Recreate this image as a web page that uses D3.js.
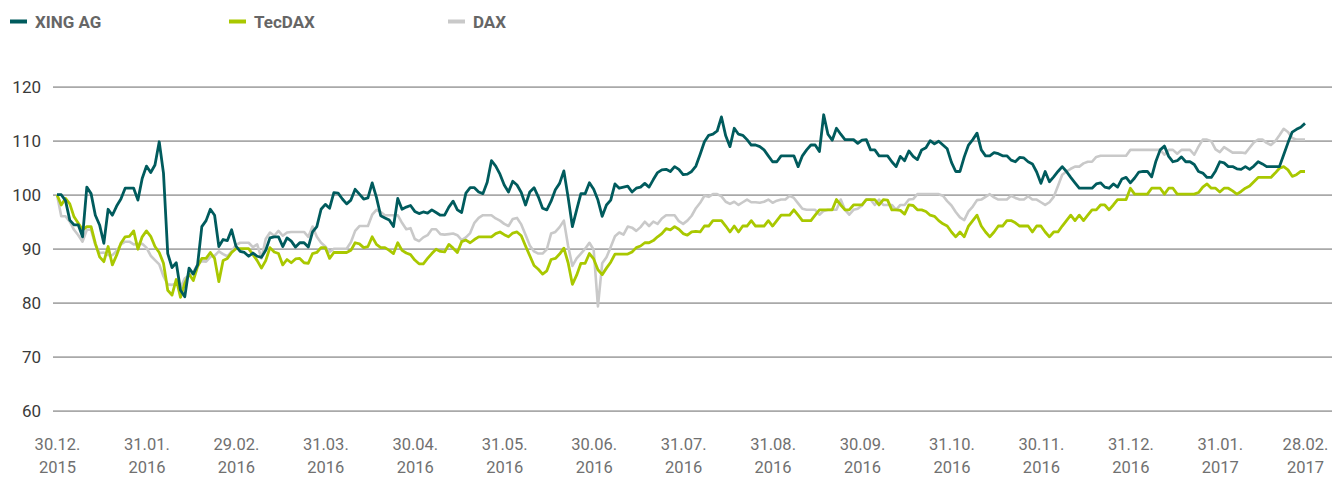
<!DOCTYPE html>
<html>
<head>
<meta charset="utf-8">
<script src="https://cdn.jsdelivr.net/npm/d3@7"></script>
<style>
  html, body { margin: 0; padding: 0; background: #fff; }
  svg text { font-family: Roboto, "Open Sans", sans-serif; }
</style>
</head>
<body>
<div id="chart"></div>
<script>
// indexed performance, 30.12.2015 = 100 (one value per trading day)
const seriesNames = ["XING AG", "TecDAX", "DAX"];
const seriesColors = ["#005b5d", "#a9c800", "#c9c9c9"];

const xingAG = [
  100, 100, 98.9, 95.3, 94.4, 94.4, 92.2, 101.4, 100.2, 96.2,
  94.4, 91, 97.3, 96.2, 97.9, 99.2, 101.2, 101.2, 101.2, 99,
  103, 105.3, 104.1, 105.5, 109.8, 104, 89.1, 86.5, 87.4, 82.3,
  81.1, 86.4, 85.3, 87, 94.1, 95.2, 97.3, 96.2, 90.4, 91.7,
  91.5, 93.5, 90.5, 89.5, 89.3, 88.6, 89.2, 88.6, 88.4, 89.7,
  92, 92.2, 92.2, 90.4, 92, 91.4, 90.3, 91.1, 91.1, 90.3,
  93.1, 94.1, 97.3, 98.2, 97.5, 100.4, 100.3, 99.2, 98.3, 99,
  101, 100.1, 99.2, 99.4, 102.2, 99.5, 96.1, 95.7, 95.3, 94.1,
  99.3, 97.3, 97.7, 98, 96.9, 96.5, 96.8, 96.6, 97.2, 96.7,
  96.2, 96.2, 97.7, 98.8, 97.2, 96.7, 100.3, 101.3, 101.3, 100.5,
  100.2, 102.3, 106.3, 105.3, 103.8, 101.8, 100.5, 102.5, 101.8, 100.4,
  98.1, 100.5, 101.3, 99.6, 97.5, 97.2, 98.8, 100.9, 102.1, 104.4,
  99.5, 94.1, 97.2, 100.2, 100.2, 102.2, 101, 99, 96, 98.1,
  99, 102, 101.2, 101.4, 101.6, 100.5, 101.2, 101.4, 102.1, 101.4,
  102.8, 104.1, 104.6, 104.7, 104.3, 105.2, 104.7, 103.7, 103.8, 104.3,
  105.3, 107.5, 109.8, 111, 111.2, 111.8, 114.4, 110.9, 108.9, 112.3,
  111.2, 111, 110.2, 109.2, 109.2, 108.9, 108.3, 107.2, 106.1, 106.1,
  107.2, 107.2, 107.2, 107.2, 105.2, 107.2, 108.3, 109.2, 109.2, 108,
  114.8, 111.2, 110.1, 112.3, 111.2, 110.2, 110.2, 110.2, 109.5, 110.1,
  110.2, 108.3, 108.3, 107.2, 107.2, 107.2, 106.1, 105.2, 107.1, 106.3,
  108.1, 107.1, 106.5, 108.3, 108.7, 110, 109.4, 109.9, 109.2, 108.5,
  106, 104.3, 104.3, 107, 109.2, 110.2, 111.4, 108.3, 107.2, 107.2,
  107.8, 107.6, 107.2, 107.2, 106.4, 106.1, 106.9, 106.8, 106.1, 105.7,
  104.2, 102.1, 104.3, 102.4, 103.3, 104.3, 105.2, 104.3, 103.2, 102.2,
  101.2, 101.2, 101.2, 101.2, 102, 102.2, 101.4, 101.2, 102, 101.4,
  102.9, 103.2, 102.2, 103.1, 104.2, 104.3, 104.3, 103.3, 106.2, 108.3,
  109, 107.1, 106.1, 106.3, 107, 106.1, 106.1, 105.6, 104.3, 104,
  103.2, 103.2, 104.4, 106.1, 105.9, 105.2, 105.2, 104.8, 104.7, 105.2,
  104.7, 105.3, 106.1, 105.7, 105.2, 105.2, 105.2, 105.2, 107.4, 109.6,
  111.6, 112.1, 112.5, 113.2
];

const tecDAX = [
  100, 98.1, 99.3, 98.3, 95.9, 94.7, 93.5, 94.1, 94.1, 91,
  88.5, 87.6, 90.4, 87, 88.8, 91, 92.2, 92.3, 93.3, 89.9,
  92.2, 93.3, 92.3, 90.4, 89.3, 87.3, 82.3, 81.4, 84.3, 81,
  83.6, 85.3, 84.1, 86.7, 88.2, 88.2, 89.3, 88.2, 83.9, 87.8,
  88.2, 89.3, 90, 90, 90, 90, 88.9, 87.8, 86.4, 87.8,
  90.2, 89.4, 89.1, 87, 88, 87.4, 88.1, 88.2, 87.4, 87.3,
  89.1, 89.3, 90.2, 90.2, 88.2, 89.3, 89.3, 89.3, 89.3, 89.7,
  91.1, 90.9, 90.2, 90.4, 92.2, 90.8, 90.2, 90.2, 89.7, 89.1,
  91.1, 89.7, 89.2, 88.9, 87.9, 87.2, 87.2, 88.2, 89.1, 89.9,
  89.5, 89.4, 90.8, 90.1, 89.3, 91.3, 91.6, 91.1, 91.7, 92.2,
  92.2, 92.2, 92.2, 92.8, 93.1, 92.6, 92.2, 92.9, 93.1, 92.4,
  90.5, 88.7, 86.9, 86.2, 85.3, 85.9, 88, 88.2, 89, 90.1,
  87.4, 83.4, 85.1, 87.3, 87.3, 89.1, 88.1, 86.1, 85.2, 86.4,
  87.5, 89, 89, 89, 89, 89.4, 90.2, 90.5, 91.1, 91.1,
  91.5, 92.2, 92.8, 93.7, 93.5, 94.1, 93.6, 92.8, 92.5, 93.1,
  93.2, 93.1, 94.2, 94.2, 95.2, 95.2, 95.2, 94.2, 93.1, 94.2,
  93.1, 94.2, 94.2, 95.2, 94.2, 94.2, 94.2, 95.2, 94.2, 95.2,
  96.2, 96.2, 96.2, 97.2, 96.2, 95.2, 95.2, 95.2, 96.2, 97.2,
  97.2, 97.2, 97.2, 99.1, 98.1, 97.2, 97.2, 98.1, 98.1, 98.1,
  99.1, 99.1, 99.1, 98.1, 99.1, 99, 97.2, 97.2, 97.1, 96.4,
  98.1, 98, 97.2, 97.2, 96.9, 96.2, 96, 95.2, 94.6, 94.2,
  93.1, 92.2, 93.1, 92.2, 94.2, 95.2, 96.2, 94.2, 93.1, 92.2,
  93.1, 94.2, 94.2, 95.2, 95.2, 94.8, 94.2, 94.2, 94.2, 93.1,
  94.2, 94.2, 93.1, 92.2, 93.1, 93.1, 94.2, 95.2, 96.2, 95.2,
  96.2, 95.2, 96.2, 97.2, 97.2, 98.1, 98.1, 97.2, 98.1, 99.1,
  99.1, 99.1, 101.2, 100.1, 100.1, 100.1, 100.1, 101.2, 101.2, 101.2,
  100.1, 101.2, 101.2, 100.1, 100.1, 100.1, 100.1, 100.1, 100.4, 101.4,
  102, 101.2, 101.2, 100.5, 101.2, 101.2, 100.7, 100.1, 100.6, 101.2,
  101.6, 102.4, 103.2, 103.2, 103.2, 103.2, 104, 104.9, 105.2, 104.6,
  103.4, 103.7, 104.3, 104.3
];

const dax = [
  100, 96, 96, 95, 93.5, 92.5, 91.3, 93.5, 93.5, 90.7,
  89.2, 89.3, 88.8, 88.8, 89.6, 90.8, 91.3, 91.3, 90.8, 90.9,
  90.9, 90.2, 88.7, 87.9, 87.1, 84.9, 83.4, 83.3, 83.6, 82.8,
  84.5, 85, 85.7, 87, 87.7, 87.6, 88.5, 88.7, 89.5, 89,
  88.6, 89.5, 90.7, 91.1, 91.1, 91.1, 90.3, 90.8, 88.2, 91.8,
  93, 92.4, 93.3, 92.4, 93, 93.1, 93.1, 93.1, 93.1, 92.2,
  94.1, 92.2, 91.1, 90.4, 89.4, 90, 90, 90, 90, 91.2,
  93.3, 94.2, 94.2, 94.2, 96.3, 97.2, 96.8, 96.2, 96.2, 96.2,
  96.2, 94.8, 93.6, 93.8, 91.8, 91.4, 92.1, 92.5, 93.6, 93.6,
  92.7, 92.6, 92.7, 92.8, 92.5, 91.6, 92.1, 92.9, 94.8, 95.7,
  96.2, 96.2, 96.2, 95.6, 95.2, 94.6, 94.2, 95.5, 95.7, 94.5,
  92.6, 90.6, 89.5, 89.1, 89.1, 89.9, 92.8, 93.1, 94, 95.2,
  90.5, 86.8, 88.2, 89.1, 90, 91.1, 89.8, 79.3, 87.3, 88.4,
  90.3, 92.3, 93, 92.6, 94.1, 93.9, 93.3, 94, 95, 94.2,
  95, 94.6, 95.6, 96.2, 96.2, 96.2, 95.1, 94.6, 95.2, 96.1,
  97.5, 98.5, 99.8, 99.6, 100.1, 100.1, 99.7, 98.7, 98.3, 98.7,
  98.1, 98.6, 99.1, 98.6, 98.6, 98.5, 98.7, 99.1, 98.5, 98.9,
  99.1, 99.1, 99.8, 99.4, 98.4, 97.4, 97.2, 97.2, 97.2, 96.3,
  97, 97.2, 97.2, 97.2, 99.1, 97.2, 96.3, 97.2, 97.4, 98,
  99.1, 99.1, 98.1, 99.1, 98.1, 98.1, 98.1, 97.2, 98.1, 98.1,
  99.1, 99.2, 100.1, 100.1, 100.1, 100.1, 100.1, 100.1, 99.8, 98.8,
  98, 96.8, 95.8, 95.3, 96.9, 97.8, 99, 99.1, 99.6, 100.1,
  99.5, 99.1, 99.1, 99.1, 99.8, 99.4, 99.1, 99.1, 99.7, 99.1,
  99.1, 98.6, 98.1, 98.6, 99.6, 101.6, 103.7, 104.3, 104.8, 105.2,
  105.2, 105.8, 106.1, 106.1, 107, 107.2, 107.2, 107.2, 107.2, 107.2,
  107.2, 107.2, 108.3, 108.3, 108.3, 108.3, 108.3, 108.3, 108.3, 108.3,
  107.4, 108.3, 108.3, 107.6, 108.3, 108.3, 108.3, 107.4, 108.9, 110.2,
  110.2, 109.9, 108.4, 107.9, 108.8, 108.3, 107.8, 107.8, 107.8, 107.7,
  108.7, 109.7, 110.2, 110.2, 109.6, 109.2, 109.9, 111, 112.2, 111.6,
  110.5, 110.2, 110.2, 110.2
];

const yTicks = [60, 70, 80, 90, 100, 110, 120];
const dateLabels = [
  "30.12.|2015", "31.01.|2016", "29.02.|2016", "31.03.|2016", "30.04.|2016",
  "31.05.|2016", "30.06.|2016", "31.07.|2016", "31.08.|2016", "30.09.|2016",
  "31.10.|2016", "30.11.|2016", "31.12.|2016", "31.01.|2017", "28.02.|2017"
];
const labelDay = [0, 21, 42, 63, 84, 105, 126, 147, 168, 189, 210, 231, 252, 273, 293];

const width = 1332, height = 477;
const gridLeft = 53;

const svg = d3.select("#chart").append("svg")
  .attr("width", width)
  .attr("height", height);

const x = d3.scaleLinear().domain([0, xingAG.length - 1]).range([57, 1305]);
const y = d3.scaleLinear().domain([60, 120]).range([410.7, 86.7]);

// horizontal grid + y labels
const yAxisG = svg.append("g")
  .attr("transform", "translate(" + gridLeft + ",0)")
  .call(d3.axisLeft(y).tickValues(yTicks).tickSize(-(width - gridLeft)).tickPadding(12));
yAxisG.select(".domain").remove();
yAxisG.selectAll(".tick line").attr("stroke", "#a9a9a9").attr("stroke-width", 1.8);
yAxisG.selectAll(".tick text")
  .attr("fill", "#3a3a3a")
  .style("font-size", "17px");

// x labels, two lines
const xAxisG = svg.append("g")
  .attr("transform", "translate(0,410)")
  .call(d3.axisBottom(x).tickValues(labelDay).tickSize(0).tickFormat((d, i) => dateLabels[i]));
xAxisG.select(".domain").remove();
xAxisG.selectAll(".tick text").each(function(d, i) {
  const parts = dateLabels[i].split("|");
  const t = d3.select(this).text(null).attr("y", null).attr("dy", null)
    .attr("fill", "#707070").style("font-size", "16.5px");
  t.append("tspan").attr("x", 0).attr("y", 40).text(parts[0]);
  t.append("tspan").attr("x", 0).attr("y", 63).text(parts[1]);
});

// lines (DAX at the back, XING on top)
const line = d3.line()
  .x((d, i) => x(i))
  .y(d => y(d));

const allSeries = [xingAG, tecDAX, dax];
[2, 1, 0].forEach(k => {
  svg.append("path")
    .datum(allSeries[k])
    .attr("fill", "none")
    .attr("stroke", seriesColors[k])
    .attr("stroke-width", k == 2 ? 2.6 : 2.8)
    .attr("stroke-linejoin", "round")
    .attr("d", line);
});

// legend
const legendX = [10, 229, 448];
const legend = svg.append("g");
seriesNames.forEach((name, k) => {
  legend.append("rect")
    .attr("x", legendX[k]).attr("y", 19.5)
    .attr("width", 17).attr("height", 4)
    .attr("fill", seriesColors[k]);
  legend.append("text")
    .attr("x", legendX[k] + 25).attr("y", 28)
    .attr("fill", "#666")
    .style("font-size", "17px")
    .style("font-weight", "bold")
    .text(name);
});
</script>
</body>
</html>
